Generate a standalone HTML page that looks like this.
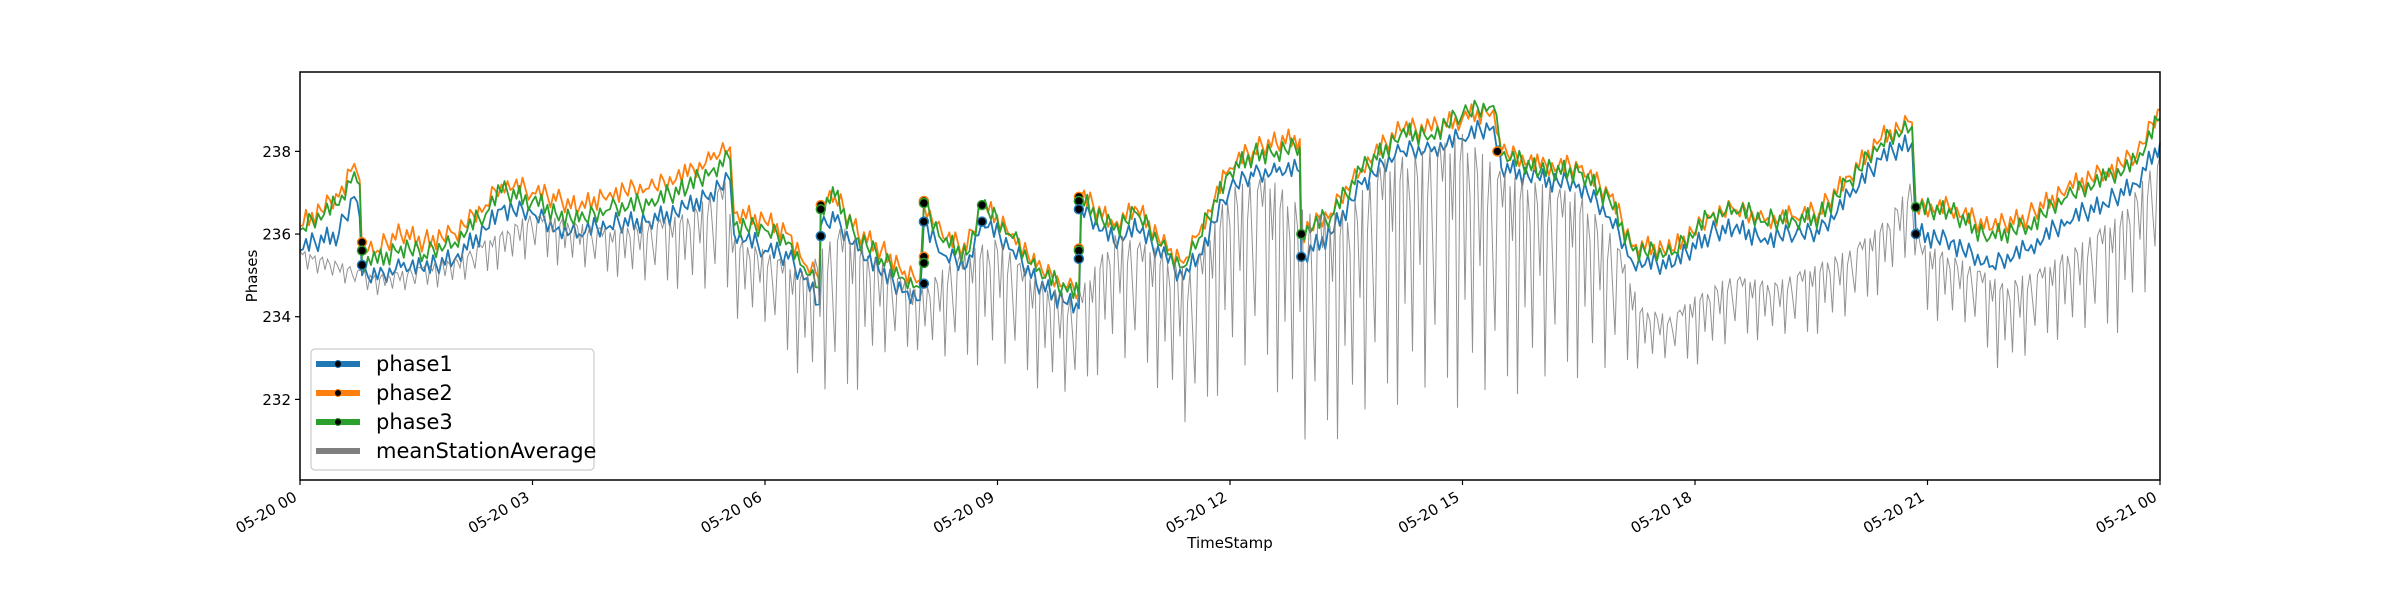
<!DOCTYPE html>
<html><head><meta charset="utf-8">
<style>
html,body{margin:0;padding:0;background:#fff;}
svg{display:block;font-family:"DejaVu Sans","Liberation Sans",sans-serif;}
</style></head>
<body>
<svg id="chart" width="2400" height="600" viewBox="0 0 2400 600" xmlns="http://www.w3.org/2000/svg">
<rect width="2400" height="600" fill="#fff"/>
<g id="plot"></g>
<g id="axes"></g>
</svg>
<script>
const times = [0,0.5,0.7,0.77,0.8,1.0,1.3,1.6,2.0,2.4,2.6,3.0,3.3,3.6,4.0,4.5,5.0,5.3,5.55,5.6,6.0,6.3,6.5,6.7,6.72,6.9,7.2,7.5,7.8,8.0,8.05,8.3,8.6,8.8,9.2,9.5,9.9,10.05,10.08,10.5,10.8,11.2,11.4,11.6,12.0,12.3,12.6,12.9,12.92,13.3,13.7,14.2,14.6,15.0,15.4,15.5,16.0,16.5,16.9,17.2,17.7,18.2,18.5,18.9,19.3,19.6,20.0,20.4,20.8,20.85,21.3,21.8,22.3,22.8,23.3,23.7,24.0];
const phase1 = [235.6,236.0,236.9,236.4,235.0,234.9,235.2,235.1,235.4,236.1,236.6,236.5,236.1,236.0,236.2,236.3,236.6,237.0,237.3,236.0,235.6,235.4,234.9,234.3,236.2,236.3,235.6,235.0,234.6,234.4,236.3,235.5,235.2,236.3,235.6,234.8,234.3,234.2,236.6,235.8,236.1,235.3,234.9,235.5,237.1,237.4,237.5,237.5,235.4,236.0,237.2,238.0,238.0,238.3,238.6,237.6,237.3,237.2,236.4,235.3,235.2,236.0,236.1,235.9,236.0,236.0,236.9,237.8,238.2,236.0,235.8,235.2,235.6,236.3,236.7,237.2,238.2];
const phase2 = [236.2,236.9,237.7,237.3,235.6,235.6,236.0,235.8,236.0,236.7,237.2,237.0,236.8,236.6,237.0,237.1,237.4,237.8,238.1,236.5,236.3,236.0,235.3,234.9,236.7,236.9,236.0,235.6,235.1,234.9,236.7,235.9,235.6,236.7,236.0,235.2,234.7,234.6,236.9,236.2,236.6,235.6,235.3,236.0,237.6,238.0,238.2,238.3,236.0,236.5,237.6,238.5,238.5,238.8,239.0,238.0,237.6,237.6,236.9,235.7,235.6,236.4,236.6,236.3,236.4,236.5,237.4,238.3,238.7,236.6,236.6,236.1,236.4,237.1,237.5,237.9,239.0];
const phase3 = [236.1,236.7,237.5,237.2,235.3,235.3,235.7,235.5,235.8,236.5,237.0,236.8,236.5,236.3,236.6,236.7,237.1,237.5,237.8,236.2,236.1,235.8,235.2,234.7,236.6,236.9,235.9,235.4,234.9,234.7,236.7,235.8,235.5,236.7,235.9,235.1,234.6,234.5,236.8,236.1,236.5,235.5,235.2,235.9,237.5,237.9,238.0,238.1,236.0,236.4,237.5,238.4,238.4,238.9,239.1,237.9,237.5,237.5,236.8,235.6,235.5,236.4,236.6,236.3,236.3,236.4,237.3,238.2,238.6,236.6,236.5,235.9,236.2,236.9,237.3,237.7,238.8];
const meanTimes = [0,1,2,3,4,5,5.5,5.6,6,6.5,7,7.5,8,8.5,9,9.5,10,10.5,11,11.5,12,12.5,13,13.5,14,14.5,15,15.5,16,16.5,17,17.3,17.7,18,18.5,19,19.5,20,20.5,20.8,20.9,21.5,22,22.5,23,23.5,24];
const meanHigh = [235.6,235.0,235.4,236.5,236.1,236.5,237.3,235.9,235.6,235.1,236.2,235.3,234.6,235.5,235.9,234.9,234.4,236.0,235.7,235.1,237.1,237.4,236.5,236.5,237.8,238.0,238.4,237.5,237.2,237.0,235.8,234.2,234.0,234.5,235.0,234.8,235.2,235.6,236.4,237.3,235.8,235.3,234.8,235.2,235.8,236.5,237.9];
const meanLow = [235.2,234.5,234.8,235.4,235.0,234.6,234.5,234.0,233.8,232.4,231.8,233.0,233.2,232.8,232.8,232.3,232.0,233.0,232.5,231.0,232.6,232.6,230.6,231.2,231.8,232.0,231.8,232.0,232.3,232.5,232.6,232.8,233.0,232.8,233.4,233.5,233.5,234.0,234.7,235.6,234.0,233.8,232.5,233.4,233.6,233.6,235.0];
const markerTimes = [0.8,0.8,0.8,6.72,6.72,6.72,8.05,8.05,8.05,8.05,8.05,8.05,8.8,8.8,10.05,10.05,10.05,10.05,10.05,10.05,12.92,12.92,15.45,20.85,20.85];
const markerValues = [235.8,235.6,235.25,236.7,236.6,235.95,236.8,236.75,236.3,235.45,235.3,234.8,236.7,236.3,236.9,236.8,236.6,235.65,235.6,235.4,236.0,235.45,238.0,236.65,236.0];
const markerSeries = [2,3,1,2,3,1,2,3,1,2,3,1,3,1,2,3,1,2,3,1,3,1,2,3,1];
const yTicks = [232,234,236,238];
const xTickHours = [0,3,6,9,12,15,18,21,24];
const xTickLabels = ["05-20 00","05-20 03","05-20 06","05-20 09","05-20 12","05-20 15","05-20 18","05-20 21","05-21 00"];

const L=300,R=2160,T=72,B=480,YMIN=230.05,YMAX=239.92;
const colors={1:"#1f77b4",2:"#ff7f0e",3:"#2ca02c"};
// rendering texture (style only, applied around the read values)
const wiggle=[0,0.22,-0.1,0.3,0.05,-0.2,0.15,-0.05,0.28,-0.15,0.1,-0.25,0.2,0,-0.12,0.25,0.08,-0.18,0.12,-0.08];
const depthPattern=[0,0.15,0,0.9,0.05,0.3,0,1,0.1,0,0.6,0.05,0.2,0.8,0,0.1,0.45,0,0.95,0.2,0,0.35,0.7,0.05];
function X(h){return L+(h/24)*(R-L);}
function Y(v){return B-(v-YMIN)/(YMAX-YMIN)*(B-T);}
const NS="http://www.w3.org/2000/svg";
function mk(tag,attrs,parent){const e=document.createElementNS(NS,tag);for(const k in attrs)e.setAttribute(k,attrs[k]);parent.appendChild(e);return e;}
const plot=document.getElementById('plot'), axes=document.getElementById('axes');
function interp(ts,vs,h){for(let i=1;i<ts.length;i++){if(h<=ts[i]){const f=(h-ts[i-1])/(ts[i]-ts[i-1]);return vs[i-1]+f*(vs[i]-vs[i-1]);}}return vs[vs.length-1];}

[[phase1,1,0],[phase2,2,7],[phase3,3,13]].forEach(([arr,s,off])=>{
  const pts=[];
  for(let i=0;i<arr.length;i++){
    pts.push(X(times[i]).toFixed(1)+","+Y(arr[i]).toFixed(1));
    if(i<arr.length-1){
      const x0=X(times[i]),x1=X(times[i+1]);
      let k=0;
      for(let px=x0+3;px<x1-1.5;px+=3){
        const f=(px-x0)/(x1-x0);
        const v=arr[i]+f*(arr[i+1]-arr[i])+wiggle[(k+off+i*3)%wiggle.length];
        pts.push(px.toFixed(1)+","+Y(v).toFixed(1));k++;
      }
    }
  }
  const pl=mk('polyline',{points:pts.join(" "),fill:"none",stroke:colors[s],"stroke-width":1.8,"stroke-linejoin":"round"},plot);
  
  
});
{
  let pts=[];let k=0;
  for(let px=L;px<=R;px+=2.5){
    const h=(px-L)/(R-L)*24;
    const hi=interp(meanTimes,meanHigh,h), lo=interp(meanTimes,meanLow,h);
    const v=hi-(hi-lo)*depthPattern[k%depthPattern.length]-0.1*wiggle[k%wiggle.length];
    pts.push(px.toFixed(1)+","+Y(v).toFixed(1));k++;
  }
  const pl=mk('polyline',{points:pts.join(" "),fill:"none",stroke:"#7f7f7f","stroke-width":1,"stroke-opacity":0.85},plot);
  
  
}
markerTimes.forEach((t,i)=>{
  const c=mk('circle',{cx:X(t),cy:Y(markerValues[i]),r:4.5,fill:"#000",stroke:colors[markerSeries[i]],"stroke-width":1.5},plot);
  
  
});
const fr=mk('rect',{x:L,y:T,width:R-L,height:B-T,fill:"none",stroke:"#000","stroke-width":1.5},axes);


yTicks.forEach(v=>{
  mk('line',{x1:L-5,x2:L,y1:Y(v),y2:Y(v),stroke:"#000","stroke-width":1.2},axes);
  const t=mk('text',{x:L-9,y:Y(v)+5.5,"text-anchor":"end","font-size":15,fill:"#000"},axes);
  t.textContent=v;
  
  
});
xTickHours.forEach((h,i)=>{
  mk('line',{x1:X(h),x2:X(h),y1:B,y2:B+5,stroke:"#000","stroke-width":1.2},axes);
  const t=mk('text',{x:X(h)-2,y:B+20,"text-anchor":"end","font-size":15,fill:"#000",transform:`rotate(-30 ${X(h)-2} ${B+20})`},axes);
  t.textContent=xTickLabels[i];
  
  
});
</script>
<svg style="position:absolute;left:0;top:0" width="2400" height="600" xmlns="http://www.w3.org/2000/svg" font-family="DejaVu Sans, Liberation Sans, sans-serif">
<text x="257" y="276" font-size="15" text-anchor="middle" transform="rotate(-90 257 276)">Phases</text>
<text x="1230" y="548" font-size="15" text-anchor="middle">TimeStamp</text>
<g>
<rect x="311" y="349" width="283" height="121" rx="4" fill="#fff" fill-opacity="0.85" stroke="#ccc" stroke-width="1.2"/>
<g><line x1="316" x2="360" y1="364" y2="364" stroke="#1f77b4" stroke-width="6"/><circle cx="338" cy="364" r="3.5" fill="#000" stroke="#1f77b4"/><text x="376" y="371" font-size="21">phase1</text></g>
<g><line x1="316" x2="360" y1="393" y2="393" stroke="#ff7f0e" stroke-width="6"/><circle cx="338" cy="393" r="3.5" fill="#000" stroke="#ff7f0e"/><text x="376" y="400" font-size="21">phase2</text></g>
<g><line x1="316" x2="360" y1="422" y2="422" stroke="#2ca02c" stroke-width="6"/><circle cx="338" cy="422" r="3.5" fill="#000" stroke="#2ca02c"/><text x="376" y="429" font-size="21">phase3</text></g>
<g><line x1="316" x2="360" y1="451" y2="451" stroke="#7f7f7f" stroke-width="6"/><text x="376" y="458" font-size="21">meanStationAverage</text></g>
</g>
</svg>
</body></html>
